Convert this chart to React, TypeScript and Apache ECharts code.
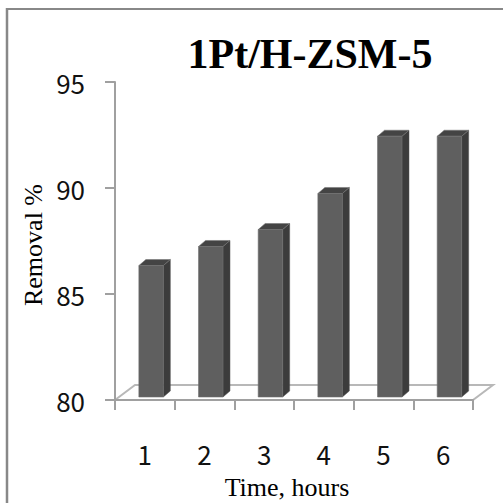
import React, { useEffect, useRef } from "react";
import * as echarts from "echarts";

const categories = ["1", "2", "3", "4", "5", "6"];
const removal = [86.2, 87.1, 87.9, 89.6, 92.3, 92.3];
const yMin = 80;
const yMax = 95;
const yInterval = 5;
const titleText = "1Pt/H-ZSM-5";
const yName = "Removal %";
const xName = "Time, hours";

const labelFont = "'Noto Sans CJK KR', 'Noto Sans', sans-serif";
const serifFont = "'Liberation Serif', 'Times New Roman', serif";

export default function App() {
  const ref = useRef<HTMLDivElement>(null);
  useEffect(() => {
    if (!ref.current) return;
    const chart = echarts.init(ref.current, undefined, { renderer: "svg" });
    const option: any = {
      animation: false,
      backgroundColor: "#ffffff",
      grid: { left: 115, top: 82, right: 30, bottom: 103, containLabel: false },
      xAxis: {
        type: "category",
        data: categories,
        boundaryGap: true,
        axisLine: { show: true, lineStyle: { color: "#a0a0a0", width: 2 } },
        axisTick: { show: true, alignWithLabel: false, length: 10, lineStyle: { color: "#a0a0a0", width: 2 } },
        axisLabel: { margin: 40, fontSize: 26, color: "#111", fontFamily: labelFont },
        splitLine: { show: false },
        z: 5,
      },
      yAxis: {
        type: "value",
        min: yMin,
        max: yMax,
        interval: yInterval,
        axisLine: { show: true, lineStyle: { color: "#a0a0a0", width: 2 } },
        axisTick: { show: true, length: 10, lineStyle: { color: "#a0a0a0", width: 2 } },
        axisLabel: { margin: 30, fontSize: 26, color: "#111", fontFamily: labelFont },
        splitLine: { show: false },
        z: 5,
      },
      graphic: [
        { type: "line", shape: { x1: 7, y1: 8, x2: 7, y2: 503 }, style: { stroke: "#888", lineWidth: 2.5 } },
        { type: "line", shape: { x1: 6, y1: 9, x2: 503, y2: 9 }, style: { stroke: "#888", lineWidth: 2 } },
        {
          type: "text",
          x: 310,
          y: 54,
          style: {
            text: titleText,
            font: `bold 42px ${serifFont}`,
            fill: "#000",
            textAlign: "center",
            textVerticalAlign: "middle",
          },
        },
        {
          type: "text",
          x: 33,
          y: 245,
          rotation: Math.PI / 2,
          style: {
            text: yName,
            font: `26px ${serifFont}`,
            fill: "#000",
            textAlign: "center",
            textVerticalAlign: "middle",
          },
        },
        {
          type: "text",
          x: 287,
          y: 487,
          style: {
            text: xName,
            font: `26px ${serifFont}`,
            fill: "#000",
            textAlign: "center",
            textVerticalAlign: "middle",
          },
        },
      ],
      series: [
        {
          type: "custom",
          name: "floor",
          z: 1,
          silent: true,
          data: [[0]],
          renderItem: (params: any, api: any) => {
            const band = api.size([1, 0])[0];
            const first = api.coord([0, yMin]);
            const last = api.coord([categories.length - 1, yMin]);
            const x0 = first[0] - band / 2;
            const x1 = last[0] + band / 2;
            const y0 = first[1];
            const dx = 20;
            const dy = 15;
            return {
              type: "polygon",
              shape: { points: [[x0, y0], [x0 + dx, y0 - dy], [x1 + dx, y0 - dy], [x1, y0]] },
              style: { fill: "#ffffff", stroke: "#b8b8b8", lineWidth: 2 },
            };
          },
        },
        {
          type: "custom",
          name: "Removal",
          z: 3,
          data: removal.map((v, i) => [i, v]),
          encode: { x: 0, y: 1 },
          renderItem: (params: any, api: any) => {
            const i = api.value(0);
            const v = api.value(1);
            const band = api.size([1, 0])[0];
            const top = api.coord([i, v]);
            const base = api.coord([i, yMin]);
            const cx = top[0];
            const left = cx - band * 0.1;
            const right = cx + band * 0.31;
            const yt = top[1] - 3;
            const yb = base[1] - 3;
            const dx = 7;
            const dy = 6;
            return {
              type: "group",
              children: [
                {
                  type: "polygon",
                  shape: { points: [[right, yt], [right + dx, yt - dy], [right + dx, yb - dy], [right, yb]] },
                  style: { fill: "#3c3c3c", stroke: "#555", lineWidth: 0.5 },
                },
                {
                  type: "polygon",
                  shape: { points: [[left, yt], [left + dx, yt - dy], [right + dx, yt - dy], [right, yt]] },
                  style: { fill: "#444444", stroke: "#777", lineWidth: 0.6 },
                },
                {
                  type: "rect",
                  shape: { x: left, y: yt, width: right - left, height: yb - yt },
                  style: { fill: "#5f5f5f", stroke: "#6e6e6e", lineWidth: 0.6 },
                },
              ],
            };
          },
        },
      ],
    };
    chart.setOption(option);
    return () => chart.dispose();
  }, []);
  return (
    <div
      ref={ref}
      style={{ position: "absolute", left: 0, top: 0, width: 503, height: 503 }}
    />
  );
}
